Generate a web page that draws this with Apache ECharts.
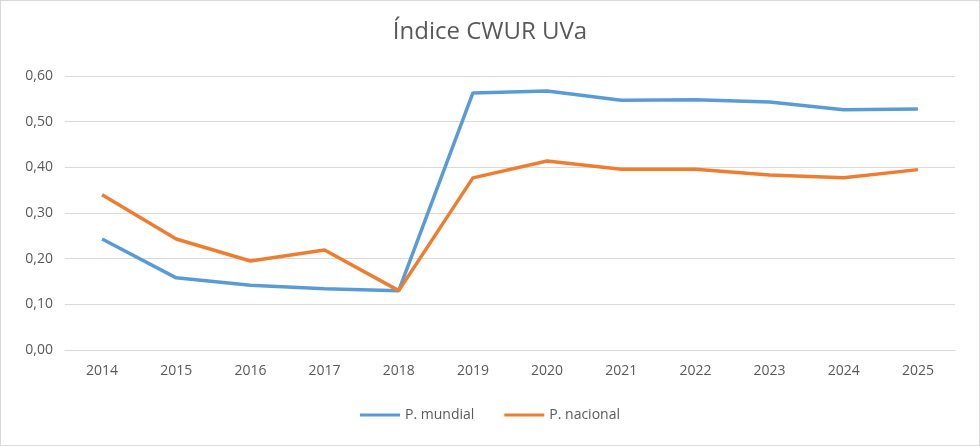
<!DOCTYPE html>
<html>
<head>
<meta charset="utf-8">
<script src="https://cdn.jsdelivr.net/npm/echarts@6/dist/echarts.min.js"></script>
<style>
html, body { margin: 0; padding: 0; background: #fff; }
#chart { width: 978px; height: 444px; border: 1px solid #d9d9d9; }
</style>
</head>
<body>
<div id="chart"></div>
<script>
var years = ['2014', '2015', '2016', '2017', '2018', '2019', '2020', '2021', '2022', '2023', '2024', '2025'];
var mundial = [0.243, 0.158, 0.142, 0.134, 0.130, 0.563, 0.567, 0.547, 0.548, 0.543, 0.526, 0.528];
var nacional = [0.340, 0.243, 0.195, 0.219, 0.130, 0.377, 0.414, 0.396, 0.396, 0.383, 0.377, 0.395];

var myChart = echarts.init(document.getElementById('chart'));
myChart.setOption({
	textStyle: { fontFamily: 'Open Sans' },
	title: {
		text: 'Índice CWUR UVa',
		left: 'center',
		top: 14,
		textStyle: { fontSize: 24, fontWeight: 'normal', color: '#595959' }
	},
	legend: {
		bottom: 18,
		itemWidth: 40,
		itemGap: 30,
		icon: 'rect',
		itemHeight: 3,
		textStyle: { fontSize: 14, color: '#595959' }
	},
	grid: { left: 64, right: 24, top: 75, bottom: 95 },
	xAxis: {
		type: 'category',
		data: years,
		axisLine: { lineStyle: { color: '#d9d9d9' } },
		axisTick: { show: false },
		axisLabel: { fontSize: 14, color: '#595959', margin: 14 }
	},
	yAxis: {
		type: 'value',
		min: 0,
		max: 0.6,
		interval: 0.1,
		axisLine: { show: false },
		axisTick: { show: false },
		splitLine: { lineStyle: { color: '#d9d9d9' } },
		axisLabel: {
			fontSize: 14, color: '#595959', margin: 12,
			formatter: function (v) { return v.toFixed(2).replace('.', ','); }
		}
	},
	series: [{
		name: 'P. mundial',
		type: 'line',
		data: mundial,
		symbol: 'none',
		itemStyle: { color: '#5b9bd5' },
		lineStyle: { width: 3.5, color: '#5b9bd5' }
	}, {
		name: 'P. nacional',
		type: 'line',
		data: nacional,
		symbol: 'none',
		itemStyle: { color: '#ed7d31' },
		lineStyle: { width: 3.5, color: '#ed7d31' }
	}]
});
</script>
</body>
</html>
